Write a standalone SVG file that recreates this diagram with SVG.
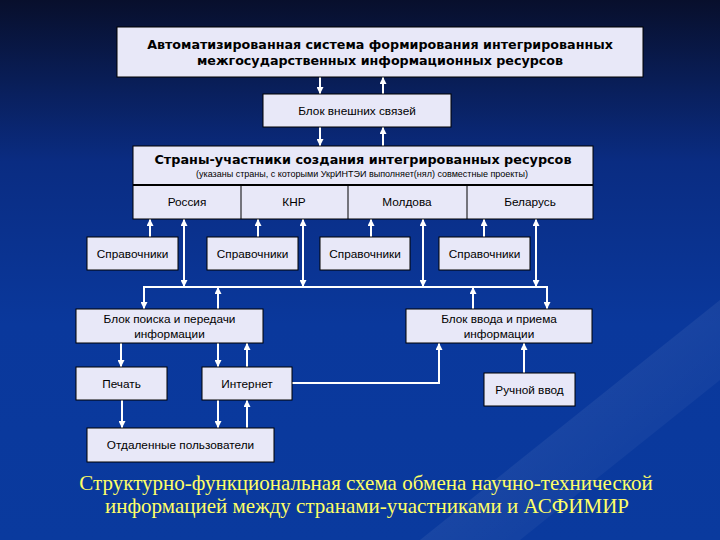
<svg xmlns="http://www.w3.org/2000/svg" width="720" height="540" viewBox="0 0 720 540">
<defs>
<linearGradient id="bg" x1="0" y1="0" x2="0" y2="1">
<stop offset="0" stop-color="#080f2c"/>
<stop offset="0.3" stop-color="#0a2c82"/>
<stop offset="0.6" stop-color="#0a389c"/>
<stop offset="1" stop-color="#0a3a9e"/>
</linearGradient>
<linearGradient id="sheen" x1="0" y1="0" x2="1" y2="1">
<stop offset="0" stop-color="#ffffff" stop-opacity="0"/>
<stop offset="0.5" stop-color="#ffffff" stop-opacity="0.06"/>
<stop offset="1" stop-color="#ffffff" stop-opacity="0"/>
</linearGradient>
<marker id="ah" viewBox="0 0 10 10" refX="10" refY="5" markerWidth="7" markerHeight="7" markerUnits="userSpaceOnUse" orient="auto">
<path d="M0,0 L10,5 L0,10 z" fill="#ffffff"/>
</marker>
<marker id="as" viewBox="0 0 10 10" refX="0" refY="5" markerWidth="7" markerHeight="7" markerUnits="userSpaceOnUse" orient="auto">
<path d="M10,0 L0,5 L10,10 z" fill="#ffffff"/>
</marker>
</defs>
<style>
.box{fill:#e8e8f8;stroke:#000;stroke-width:1}
.t{font-family:"Liberation Sans",Arial,sans-serif;font-size:11.8px;fill:#000;text-anchor:middle}
.b{font-family:"DejaVu Sans",Verdana,sans-serif;font-weight:bold;fill:#000;text-anchor:middle}
.s{font-family:"Liberation Sans",Arial,sans-serif;font-size:9px;fill:#000;text-anchor:middle}
.c{fill:none;stroke:#ffffff;stroke-width:2}
.a{marker-end:url(#ah)}
.d{marker-start:url(#as);marker-end:url(#ah)}
.cap{font-family:"Liberation Serif","Times New Roman",serif;font-size:21px;fill:#ffff66;text-anchor:middle}
</style>
<rect width="720" height="540" fill="url(#bg)"/>
<polygon points="420,540 720,300 720,380 520,540" fill="url(#sheen)"/>

<g id="connectors">
<line class="c a" x1="320" y1="77" x2="320" y2="94"/>
<line class="c a" x1="383" y1="94" x2="383" y2="77"/>
<line class="c a" x1="320" y1="127" x2="320" y2="146"/>
<line class="c a" x1="383" y1="146" x2="383" y2="127"/>
<line class="c a" x1="150" y1="237" x2="150" y2="219"/>
<line class="c a" x1="258" y1="237" x2="258" y2="219"/>
<line class="c a" x1="371" y1="237" x2="371" y2="219"/>
<line class="c a" x1="484" y1="237" x2="484" y2="219"/>
<line class="c d" x1="184" y1="219" x2="184" y2="287"/>
<line class="c d" x1="303" y1="219" x2="303" y2="287"/>
<line class="c d" x1="423" y1="219" x2="423" y2="287"/>
<line class="c d" x1="536" y1="219" x2="536" y2="287"/>
<line class="c" x1="143" y1="287" x2="548" y2="287"/>
<line class="c a" x1="144" y1="287" x2="144" y2="309"/>
<line class="c a" x1="218" y1="309" x2="218" y2="287"/>
<line class="c a" x1="473" y1="309" x2="473" y2="287"/>
<line class="c a" x1="547" y1="287" x2="547" y2="309"/>
<line class="c a" x1="121" y1="343" x2="121" y2="367"/>
<line class="c a" x1="218" y1="343" x2="218" y2="367"/>
<line class="c a" x1="247" y1="367" x2="247" y2="343"/>
<path class="c a" d="M292,383 H439 V343"/>
<line class="c a" x1="524" y1="373" x2="524" y2="343"/>
<line class="c a" x1="122" y1="400" x2="122" y2="428"/>
<line class="c a" x1="218" y1="400" x2="218" y2="428"/>
<line class="c a" x1="247" y1="428" x2="247" y2="400"/>
</g>

<g id="asfimir">
<rect class="box" x="117" y="27" width="526" height="50"/>
<text class="b" font-size="12.7" x="380" y="49">Автоматизированная система формирования интегрированных</text>
<text class="b" font-size="12.7" x="380" y="65">межгосударственных информационных ресурсов</text>
</g>
<g id="blok-vneshnih">
<rect class="box" x="263" y="94" width="188" height="33"/>
<text class="t" x="357" y="115">Блок внешних связей</text>
</g>
<g id="strany">
<rect class="box" x="133" y="146" width="460" height="73"/>
<line x1="133" y1="185" x2="593" y2="185" stroke="#000" stroke-width="2"/>
<line x1="241" y1="185" x2="241" y2="219" stroke="#000" stroke-width="1"/>
<line x1="348" y1="185" x2="348" y2="219" stroke="#000" stroke-width="1"/>
<line x1="467" y1="185" x2="467" y2="219" stroke="#000" stroke-width="1"/>
<text class="b" font-size="12.8" x="363" y="164">Страны-участники создания интегрированных ресурсов</text>
<text class="s" x="362" y="177">(указаны страны, с которыми УкрИНТЭИ выполняет(нял) совместные проекты)</text>
<text class="t" x="187" y="206">Россия</text>
<text class="t" x="294" y="206">КНР</text>
<text class="t" x="407" y="206">Молдова</text>
<text class="t" x="530" y="206">Беларусь</text>
</g>
<g id="sprav1">
<rect class="box" x="87" y="237" width="91" height="33"/>
<text class="t" x="132.5" y="258">Справочники</text>
</g>
<g id="sprav2">
<rect class="box" x="207" y="237" width="91" height="33"/>
<text class="t" x="252.5" y="258">Справочники</text>
</g>
<g id="sprav3">
<rect class="box" x="320" y="237" width="90" height="33"/>
<text class="t" x="365" y="258">Справочники</text>
</g>
<g id="sprav4">
<rect class="box" x="439" y="237" width="91" height="33"/>
<text class="t" x="484.5" y="258">Справочники</text>
</g>
<g id="blok-poiska">
<rect class="box" x="76" y="309" width="187" height="34"/>
<text class="t" x="169.5" y="323">Блок поиска и передачи</text>
<text class="t" x="169.5" y="338">информации</text>
</g>
<g id="blok-vvoda">
<rect class="box" x="406" y="309" width="186" height="34"/>
<text class="t" x="499" y="323">Блок ввода и приема</text>
<text class="t" x="499" y="338">информации</text>
</g>
<g id="pechat">
<rect class="box" x="76" y="367" width="91" height="33"/>
<text class="t" x="121.5" y="388">Печать</text>
</g>
<g id="internet">
<rect class="box" x="202" y="367" width="90" height="33"/>
<text class="t" x="247" y="388">Интернет</text>
</g>
<g id="ruchnoy">
<rect class="box" x="484" y="373" width="91" height="33"/>
<text class="t" x="529.5" y="394">Ручной ввод</text>
</g>
<g id="udalennye">
<rect class="box" x="87" y="428" width="187" height="34"/>
<text class="t" x="180.5" y="449">Отдаленные пользователи</text>
</g>

<text class="cap" x="366" y="490">Структурно-функциональная схема обмена научно-технической</text>
<text class="cap" x="367" y="513">информацией между странами-участниками и АСФИМИР</text>
</svg>
